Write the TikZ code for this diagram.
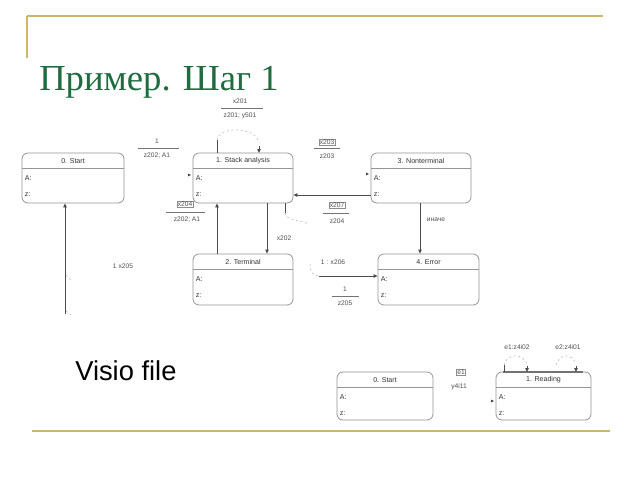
\documentclass[tikz,border=0pt]{standalone}
\usepackage{fontspec}
\setmainfont{Liberation Serif}
\setsansfont{Liberation Sans}
\usetikzlibrary{calc,fit,arrows.meta}
\definecolor{gold}{RGB}{206,182,105}
\definecolor{ttl}{RGB}{32,108,64}
\definecolor{bx}{RGB}{150,150,150}
\definecolor{lbl}{RGB}{80,80,80}
\tikzset{
  stbox/.style={draw=bx, line width=0.6pt, rounded corners=4.5pt, inner sep=0pt},
  hdr/.style={draw=bx, line width=0.9pt},
  boxtxt/.style={font=\sffamily\fontsize{5.3}{6}\selectfont, text=black!80, inner sep=0pt},
  lbl/.style={font=\sffamily\fontsize{5}{6}\selectfont, text=lbl, inner sep=0.6pt},
  lblbox/.style={lbl, draw=black!45, line width=0.3pt},
  rule/.style={draw=black!55, line width=0.4pt},
  conn/.style={draw=black!70, line width=0.6pt},
  arr/.style={conn, -{Triangle[length=3pt,width=2.6pt]}},
  faint/.style={draw=black!25, line width=0.5pt, dash pattern=on 1.5pt off 2pt},
  goldline/.style={draw=gold, line width=1.3pt},
  inmk/.style={fill=black!75}
}
\newcommand\stbx[6]{%
  \coordinate (#1-nw) at (#2,#3);
  \coordinate (#1-se) at (#4,#5);
  \node[stbox, fit=(#1-nw)(#1-se)] (#1) {};
  \draw[hdr] ($(#1.north west)+(0,16)$) -- ($(#1.north east)+(0,16)$);
  \node[boxtxt] (#1-t) at ($(#1.north)+(0,8)$) {#6};
  \node[boxtxt, anchor=west] (#1-a) at ($(#1.north west)+(3,25)$) {A:};
  \node[boxtxt, anchor=west] (#1-z) at ($(#1.north west)+(3,42)$) {z:};
}
\newcommand\inmark[2]{\fill[inmk] (#1-3,#2-1.4) -- (#1,#2) -- (#1-3,#2+1.4) -- cycle;}
\begin{document}
\begin{tikzpicture}[x=0.75pt, y=-0.75pt]
\useasboundingbox (0,0) rectangle (640,480);
\fill[white] (0,0) rectangle (640,480);
% decoration lines
\draw[goldline] (27,16) -- (603,16);
\draw[goldline] (27,16) -- (27,58);
\draw[goldline] (32,431) -- (610,431);
% title
\node[anchor=base west, inner sep=0, text=ttl, font=\fontsize{27.5}{30}\selectfont] (title) at (39,90) {Пример. Шаг 1};
\node[anchor=base west, inner sep=0, font=\sffamily\fontsize{20.5}{22}\selectfont] (visio) at (75,380) {Visio file};
% boxes
\stbx{s0}{22}{153}{124}{203}{0. Start}
\stbx{s1}{193}{153}{293}{203}{1. Stack analysis}
\stbx{s3}{371}{153}{471}{203}{3. Nonterminal}
\stbx{s2}{193}{254}{293}{305}{2. Terminal}
\stbx{s4}{378}{254}{479}{305}{4. Error}
\stbx{b0}{337}{372}{433}{420}{0. Start}
\stbx{b1}{496}{372}{591}{420}{1. Reading}
\draw[line width=1.1pt, black!55] (503,372) -- (583,372);
% connectors
\coordinate (c0) at (65,314);
\draw[arr] (c0) -- (c0 |- s0.south);
\draw[faint] (66,275) -- (72,281);
\draw[faint] (66,311) -- (71,315);
\coordinate (c1) at (267,203);
\draw[arr] (c1) -- (c1 |- s2.north);
\coordinate (c2) at (217,254);
\draw[arr] (c2) -- (c2 |- s1.south);
\coordinate (c3) at (371,195);
\draw[arr] (c3) -- (c3 -| s1.east);
\coordinate (c4) at (420,203);
\draw[arr] (c4) -- (c4 |- s4.north);
% stack -> error
\coordinate (e0) at (285,203);
\coordinate (e1) at (285,213);
\coordinate (e2) at (309,224);
\draw[conn] (e0) -- (e1);
\draw[faint] (e1) .. controls (285,220) and (300,220) .. (e2);
\coordinate (e3) at (310,264);
\coordinate (e4) at (319,276);
\draw[faint] (e3) .. controls (310,272) and (313,276) .. (e4);
\draw[arr] (e4) -- (e4 -| s4.west);
% self loop stack
\coordinate (l0) at (217,153);
\coordinate (l1) at (217,140);
\coordinate (l2) at (259,143);
\coordinate (l3) at (259,153);
\draw[conn] (l0) -- (l1);
\draw[faint] (l1) .. controls (219,126) and (256,126) .. (l2);
\draw[arr] (259,146) -- (l3);
% reading loops
\coordinate (r0) at (504,372);
\coordinate (r1) at (504,365);
\draw[conn] (r0) -- (r1);
\draw[faint] (r1) .. controls (507,353) and (523,353) .. (527,364);
\draw[arr] (527,366) -- (527,372);
\coordinate (r2) at (556,365);
\draw[faint] (r2) .. controls (560,353) and (572,353) .. (576,364);
\draw[arr] (576,366) -- (576,372);
% incoming markers
\inmark{191}{175}
\inmark{369}{174}
\inmark{494}{401}
% labels
\node[lbl] (t201) at (240,101) {x201};
\draw[rule] (221,108) -- (263,108);
\node[lbl] (t201b) at (240,116) {z201; y501};
\node[lbl] (t1a) at (157,141) {1};
\draw[rule] (138,148) -- (179,148);
\node[lbl] (t1ab) at (157,156) {z202; A1};
\node[lblbox] (t203) at (327,142) {x203};
\draw[rule] (314,148.5) -- (340,148.5);
\node[lbl] (t203b) at (327,156) {z203};
\node[lblbox] (t204) at (185,204) {x204};
\draw[rule] (166,212) -- (205,212);
\node[lbl] (t204b) at (187,220) {z202; A1};
\node[lblbox] (t207) at (337,205) {x207};
\draw[rule] (323,213) -- (349,213);
\node[lbl] (t207b) at (337,221) {z204};
\node[lbl] (t202) at (284,238) {x202};
\node[lbl] (tin) at (436,220) {иначе};
\node[lbl] (t206) at (333,262) {1 : x206};
\node[lbl] (t1c) at (345,289) {1};
\draw[rule] (332,296) -- (359,296);
\node[lbl] (t205b) at (345,303) {z205};
\node[lbl] (t205) at (123,266) {1 x205};
\node[lblbox] (te1) at (461,372) {e1};
\node[lbl] (ty) at (459,387) {y4i11};
\node[lbl] (tr1) at (517,347) {e1:z4i02};
\node[lbl] (tr2) at (568,347) {e2:z4i01};
\end{tikzpicture}
\end{document}
